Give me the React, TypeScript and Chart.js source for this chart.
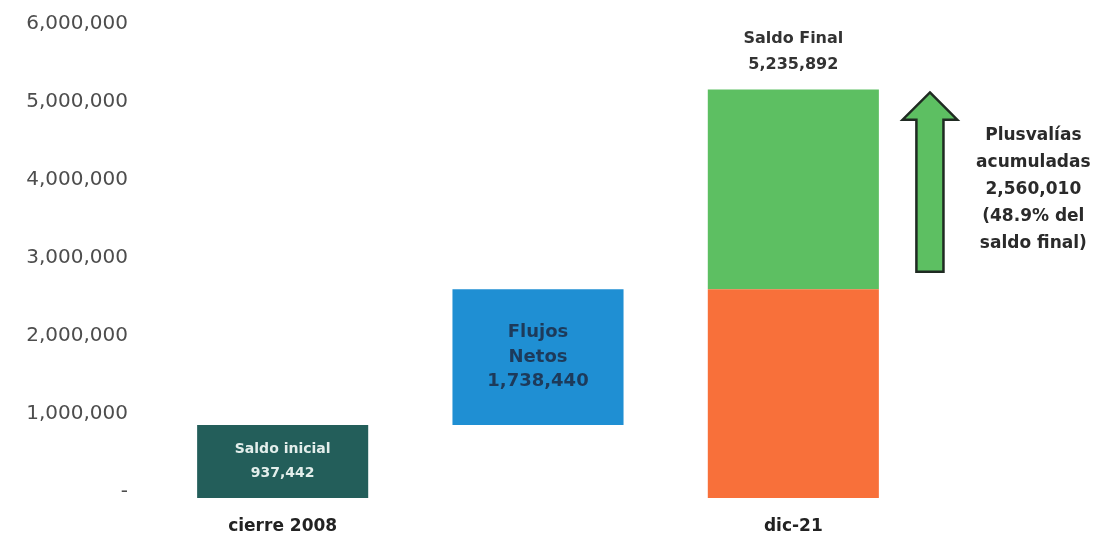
import React, { useEffect, useRef } from "react";
import { Chart, registerables } from "chart.js";

Chart.register(...registerables);

const categories = ["cierre 2008", "", "dic-21"];
const saldoInicial = 937442;
const flujosNetos = 1738440;
const plusvalias = 2560010;
const saldoFinal = 5235892;
const baseStarts = [0, saldoInicial, 0];
const baseEnds = [saldoInicial, saldoInicial + flujosNetos, saldoInicial + flujosNetos];
const gainStarts = [null, null, saldoInicial + flujosNetos];
const gainEnds = [null, null, saldoFinal];
const baseColors = ["#235e5a", "#1f8fd3", "#f8703a"];
const gainColor = "#5dbf62";
const yTicks = [0, 1000000, 2000000, 3000000, 4000000, 5000000, 6000000];
const arrowValues = { top: 5200000, headBase: 4850000, bottom: 2900000 };
const plusText = ["Plusvalías", "acumuladas", "2,560,010", "(48.9% del", "saldo final)"];

const fmt = (v: number) => v.toLocaleString("en-US");

const FONT = "'DejaVu Sans', sans-serif";

const annotations = {
  id: "annotations",
  afterDatasetsDraw(chart: any) {
    const ctx = chart.ctx;
    const x = chart.scales.x;
    const y = chart.scales.y;
    const cw = x.getPixelForValue(2) - x.getPixelForValue(1);
    ctx.save();
    ctx.textAlign = "center";
    ctx.textBaseline = "middle";

    // Saldo inicial
    const x0 = x.getPixelForValue(0);
    const m0 = (y.getPixelForValue(baseStarts[0]) + y.getPixelForValue(baseEnds[0])) / 2;
    ctx.fillStyle = "#e3eeeb";
    ctx.font = `bold 14px ${FONT}`;
    ctx.fillText("Saldo inicial", x0, m0 - 12);
    ctx.fillText(fmt(saldoInicial), x0, m0 + 12);

    // Flujos netos
    const x1 = x.getPixelForValue(1);
    const m1 = (y.getPixelForValue(baseStarts[1]) + y.getPixelForValue(baseEnds[1])) / 2;
    ctx.fillStyle = "#1d3a5a";
    ctx.font = `bold 18px ${FONT}`;
    ctx.fillText("Flujos", x1, m1 - 25);
    ctx.fillText("Netos", x1, m1);
    ctx.fillText(fmt(flujosNetos), x1, m1 + 24);

    // Saldo final
    const x2 = x.getPixelForValue(2);
    const top2 = y.getPixelForValue(saldoFinal);
    ctx.fillStyle = "#333333";
    ctx.font = `bold 16px ${FONT}`;
    ctx.fillText("Saldo Final", x2, top2 - 51);
    ctx.fillText(fmt(saldoFinal), x2, top2 - 25);

    // Arrow
    const ac = x2 + cw * 0.535;
    const hh = cw * 0.107;
    const sh = cw * 0.053;
    const yt = y.getPixelForValue(arrowValues.top);
    const yh = y.getPixelForValue(arrowValues.headBase);
    const yb = y.getPixelForValue(arrowValues.bottom);
    ctx.beginPath();
    ctx.moveTo(ac, yt);
    ctx.lineTo(ac + hh, yh);
    ctx.lineTo(ac + sh, yh);
    ctx.lineTo(ac + sh, yb);
    ctx.lineTo(ac - sh, yb);
    ctx.lineTo(ac - sh, yh);
    ctx.lineTo(ac - hh, yh);
    ctx.closePath();
    ctx.fillStyle = gainColor;
    ctx.fill();
    ctx.lineWidth = 2.5;
    ctx.strokeStyle = "#1f2a22";
    ctx.stroke();

    // Plusvalias text
    const tx = x2 + cw * 0.94;
    const tm = y.getPixelForValue(3960000);
    ctx.fillStyle = "#2a2a2a";
    ctx.font = `bold 17px ${FONT}`;
    plusText.forEach((t, i) => {
      ctx.fillText(t, tx, tm + (i - 2) * 27);
    });
    ctx.restore();
  },
};

export default function App() {
  const ref = useRef<HTMLCanvasElement>(null);
  useEffect(() => {
    if (!ref.current) return;
    const chart = new Chart(ref.current, {
      type: "bar",
      data: {
        labels: categories,
        datasets: [
          {
            label: "base",
            data: baseStarts.map((s, i) => [s, baseEnds[i]]) as any,
            backgroundColor: baseColors,
            grouped: false,
            barPercentage: 0.67,
            categoryPercentage: 1,
          } as any,
          {
            label: "plusvalias",
            data: gainStarts.map((s, i) => (s === null ? null : [s, gainEnds[i]])) as any,
            backgroundColor: gainColor,
            grouped: false,
            barPercentage: 0.67,
            categoryPercentage: 1,
          } as any,
        ],
      },
      options: {
        animation: false,
        responsive: false,
        maintainAspectRatio: false,
        layout: { padding: { top: 30, right: 187, left: 0, bottom: 0 } },
        plugins: { legend: { display: false }, tooltip: { enabled: false } },
        scales: {
          x: {
            grid: { display: false, drawTicks: false },
            border: { display: false },
            ticks: {
              color: "#222222",
              font: { family: FONT, size: 17, weight: "bold" },
              padding: 18,
            },
            afterFit: (s: any) => {
              s.height = 42;
              s.paddingLeft = 0;
              s.paddingRight = 0;
            },
          },
          y: {
            min: 0,
            max: 6000000,
            grid: { display: false, drawTicks: false },
            border: { display: false },
            afterBuildTicks: (s: any) => {
              s.ticks = yTicks.map((v) => ({ value: v }));
            },
            afterFit: (s: any) => {
              s.width = 155;
              s.paddingTop = 0;
              s.paddingBottom = 0;
            },
            ticks: {
              color: "#4d4d4d",
              font: { family: FONT, size: 20 },
              padding: 27,
              labelOffset: -6,
              callback: (v: any) => (Number(v) === 0 ? "-" : fmt(Number(v))),
            },
          },
        },
      },
      plugins: [annotations],
    } as any);
    return () => chart.destroy();
  }, []);
  return (
    <div style={{ position: "fixed", left: 0, top: 0, width: 1108, height: 540, background: "#fff" }}>
      <canvas ref={ref} width={1108} height={540} />
    </div>
  );
}
